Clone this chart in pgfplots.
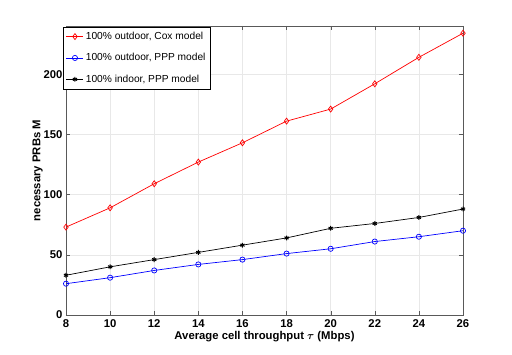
\documentclass[border=0pt]{standalone}
\usepackage{pgfplots}
\pgfplotsset{compat=1.18}
\usepackage{bm}
\usepackage{fontspec}
\setmainfont{Liberation Sans}
\begin{document}
\begin{tikzpicture}[x=1pt,y=1pt]
\path[use as bounding box] (-66,-39) rectangle (446,315);
\begin{axis}[
  at={(0,0)}, anchor=south west,
  scale only axis, width=397pt, height=289pt,
  xmin=8, xmax=26, ymin=0, ymax=240,
  xtick={8,10,...,26}, ytick={0,50,100,150,200},
  grid=major, major grid style={gray!18, line width=0.4pt},
  axis line style={gray!70!black, line width=0.5pt},
  tick style={gray!70!black},
  tick align=inside, major tick length=4pt,
  ticklabel style={font=\fontsize{11.3}{12}\selectfont\bfseries},
  xticklabel style={yshift=-1pt},
  /pgf/number format/assume math mode=true,
  xlabel={\bfseries Average cell throughput $\bm{\tau}$ (Mbps)},
  ylabel={\bfseries necessary PRBs M},
  label style={font=\fontsize{11.3}{13}\selectfont},
  xlabel style={yshift=3pt},
  ylabel style={yshift=-6pt},
  legend style={at={(-0.008,0.997)}, anchor=north west, font=\fontsize{10.2}{11}\selectfont, draw=black, line width=0.5pt, row sep=8.5pt, inner sep=3pt, cells={anchor=west}},
  legend cell align=left,
]
\addplot[red, line width=0.7pt, mark=diamond, mark size=3pt, mark options={solid}] coordinates {
(8,73) (10,89) (12,109) (14,127) (16,143) (18,161) (20,171) (22,192) (24,214) (26,234)};
\addlegendentry{100\% outdoor, Cox model}
\addplot[blue, line width=0.7pt, mark=o, mark size=2.6pt] coordinates {
(8,26) (10,31) (12,37) (14,42) (16,46) (18,51) (20,55) (22,61) (24,65) (26,70)};
\addlegendentry{100\% outdoor, PPP model}
\addplot[black, line width=0.7pt, mark=asterisk, mark size=2.4pt, mark options={line width=1pt}] coordinates {
(8,33) (10,40) (12,46) (14,52) (16,58) (18,64) (20,72) (22,76) (24,81) (26,88)};
\addlegendentry{100\% indoor, PPP model}
\end{axis}
\end{tikzpicture}
\end{document}
